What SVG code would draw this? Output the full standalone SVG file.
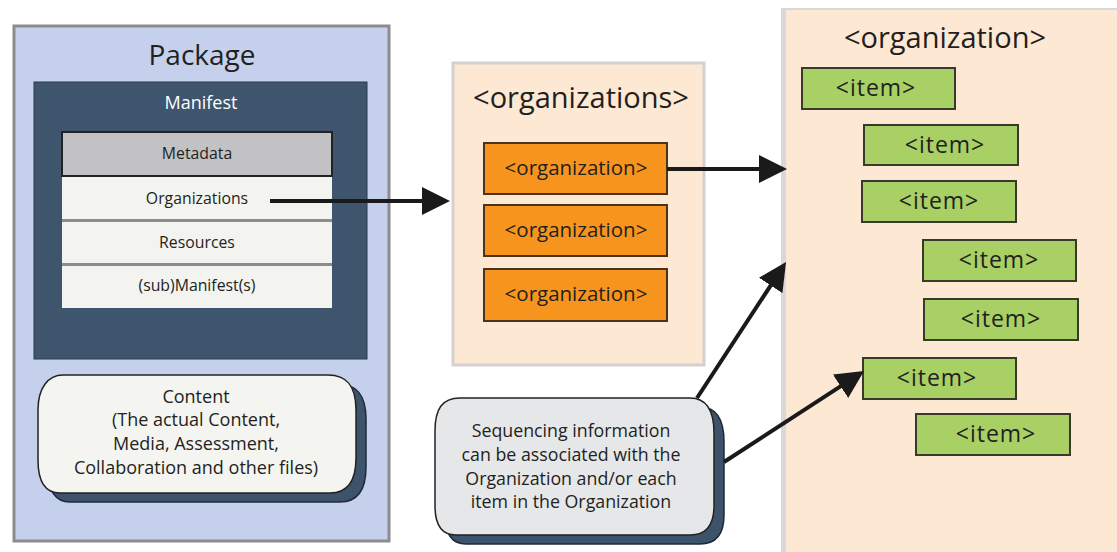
<svg xmlns="http://www.w3.org/2000/svg" width="1117" height="552" viewBox="0 0 1117 552">
<style>
text{font-family:"Open Sans","Liberation Sans",sans-serif;fill:#231f20;text-anchor:middle}
.peach{fill:#fde8d3}
.org{fill:#f7941e;stroke:#4a3420;stroke-width:2}
.item{fill:#a8d065;stroke:#3a3a2c;stroke-width:2}
.row{fill:#f3f4ef}
.sep{stroke:#8a8d90;stroke-width:3}
.conn{stroke:#1a1a1a;stroke-width:4;fill:none;marker-end:url(#ah)}
.shadow{fill:#3d536b;stroke:#1f2a36;stroke-width:1.5}
.it{font-size:23px;letter-spacing:1px}
.ot{font-size:20.5px}
.tb{font-size:15.8px}
.seq{font-size:17.8px}
</style>
<defs>
<marker id="ah" markerUnits="userSpaceOnUse" markerWidth="28" markerHeight="28" refX="4" refY="14" orient="auto">
<path d="M0,0 L28,14 L0,28 Z" fill="#1a1a1a"/>
</marker>
</defs>
<rect width="1117" height="552" fill="#ffffff"/>

<g id="package">
<rect x="14" y="26" width="375" height="515" fill="#c5d1ec" stroke="#8c8c8c" stroke-width="3"/>
<text x="202" y="65" font-size="28">Package</text>
</g>

<g id="manifest">
<rect x="34" y="82" width="333" height="277" fill="#3e556d" stroke="#2b3a4a" stroke-width="1"/>
<text x="201" y="109" font-size="18" style="fill:#ffffff">Manifest</text>
</g>

<g id="metadata">
<rect x="62" y="132" width="270" height="44" fill="#c2c2c4" stroke="#222" stroke-width="2"/>
<text class="tb" x="197" y="159">Metadata</text>
</g>
<g id="organizations-row">
<rect class="row" x="62" y="177" width="270" height="43"/>
<text class="tb" x="197" y="204">Organizations</text>
</g>
<g id="resources-row">
<rect class="row" x="62" y="221" width="270" height="43"/>
<text class="tb" x="197" y="248">Resources</text>
</g>
<g id="submanifest-row">
<rect class="row" x="62" y="265" width="270" height="43"/>
<text class="tb" x="197" y="291">(sub)Manifest(s)</text>
</g>
<line class="sep" x1="62" y1="220.5" x2="332" y2="220.5"/>
<line class="sep" x1="62" y1="264.5" x2="332" y2="264.5"/>

<g id="content">
<path class="shadow" d="M73,384 H338 C356,384 366,394 366,419 V467 C366,489 358,502 340,502 H70 C55,502 48,491 48,469 V419 C48,397 58,384 73,384 Z"/>
<path d="M63,375 H328 C346,375 356,385 356,410 V458 C356,480 348,493 330,493 H60 C45,493 38,482 38,460 V410 C38,388 48,375 63,375 Z" fill="#f4f5f0" stroke="#222" stroke-width="1.5"/>
<text x="196" y="403" font-size="18">Content</text>
<text x="196" y="426" font-size="18">(The actual Content,</text>
<text x="196" y="450" font-size="18">Media, Assessment,</text>
<text x="196" y="474" font-size="18">Collaboration and other files)</text>
</g>

<g id="organizations-box">
<rect x="453" y="63" width="251" height="302" class="peach" stroke="#d3d1cf" stroke-width="3"/>
<text x="581" y="108" font-size="29">&lt;organizations&gt;</text>
</g>
<g id="org1"><rect class="org" x="484" y="143" width="183" height="51"/><text class="ot" x="576" y="175">&lt;organization&gt;</text></g>
<g id="org2"><rect class="org" x="484" y="205" width="183" height="51"/><text class="ot" x="576" y="237">&lt;organization&gt;</text></g>
<g id="org3"><rect class="org" x="484" y="269" width="183" height="52"/><text class="ot" x="576" y="301">&lt;organization&gt;</text></g>

<g id="organization-box">
<rect x="781" y="8" width="340" height="550" fill="#d8d8d8"/>
<rect x="786" y="10" width="335" height="548" class="peach"/>
<text x="945" y="48" font-size="29">&lt;organization&gt;</text>
</g>
<g id="item1"><rect class="item" x="802" y="68" width="153" height="41"/><text class="it" x="876" y="96">&lt;item&gt;</text></g>
<g id="item2"><rect class="item" x="864" y="125" width="154" height="40"/><text class="it" x="945" y="153">&lt;item&gt;</text></g>
<g id="item3"><rect class="item" x="862" y="181" width="154" height="41"/><text class="it" x="939" y="209">&lt;item&gt;</text></g>
<g id="item4"><rect class="item" x="923" y="240" width="153" height="41"/><text class="it" x="999" y="268">&lt;item&gt;</text></g>
<g id="item5"><rect class="item" x="924" y="299" width="154" height="41"/><text class="it" x="1001" y="327">&lt;item&gt;</text></g>
<g id="item6"><rect class="item" x="863" y="358" width="153" height="41"/><text class="it" x="937" y="386">&lt;item&gt;</text></g>
<g id="item7"><rect class="item" x="916" y="414" width="154" height="41"/><text class="it" x="996" y="442">&lt;item&gt;</text></g>

<g id="sequencing">
<path class="shadow" d="M470,407 H700 C716,407 724,418 724,442 V515 C724,535 716,544 700,544 H466 C452,544 445,534 445,515 V440 C445,418 452,407 470,407 Z"/>
<path d="M460,398 H690 C706,398 714,409 714,433 V506 C714,526 706,535 690,535 H456 C442,535 435,525 435,506 V431 C435,409 442,398 460,398 Z" fill="#e6e7e9" stroke="#222" stroke-width="1.5"/>
<text class="seq" x="571" y="437">Sequencing information</text>
<text class="seq" x="571" y="461">can be associated with the</text>
<text class="seq" x="571" y="485">Organization and/or each</text>
<text class="seq" x="571" y="508">item in the Organization</text>
</g>

<g id="connectors">
<line class="conn" x1="270" y1="201" x2="426" y2="201"/>
<line class="conn" x1="667" y1="169" x2="763" y2="169"/>
<line class="conn" x1="697" y1="398" x2="772.9" y2="282.1"/>
<line class="conn" x1="724" y1="462" x2="843.9" y2="384.1"/>
</g>
</svg>
